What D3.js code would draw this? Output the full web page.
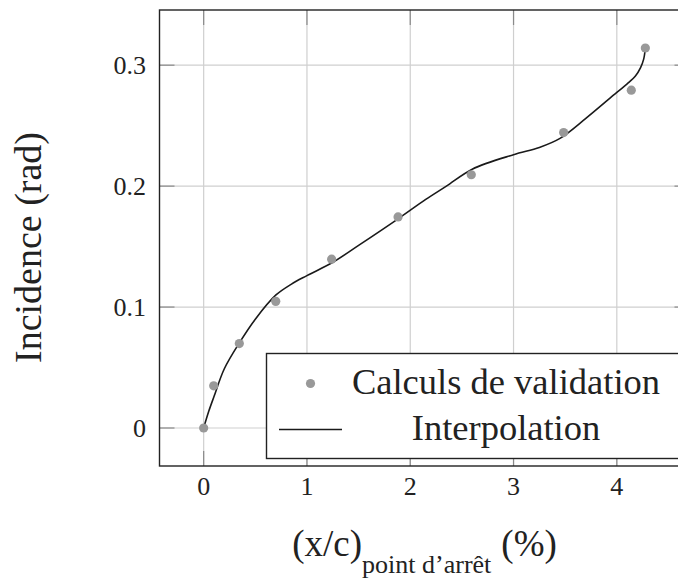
<!DOCTYPE html>
<html><head><meta charset="utf-8">
<script src="https://cdn.jsdelivr.net/npm/d3@7"></script>
<style>body{margin:0;background:#fff}svg{display:block}</style>
</head><body>
<script>
// Data
const calcX = [0, 0.097, 0.345, 0.698, 1.239, 1.882, 2.591, 3.485, 4.14, 4.276];
const calcY = [0, 0.0349, 0.0698, 0.1047, 0.1396, 0.1745, 0.2094, 0.2443, 0.2793, 0.3142];
const interpX = [0, 0.05, 0.1, 0.2, 0.35, 0.5, 0.7, 0.85, 1.0, 1.25, 1.5, 1.9, 2.15, 2.35, 2.6, 3.0, 3.25, 3.45, 3.7, 4.0, 4.1, 4.18, 4.23, 4.26, 4.276];
const interpY = [0, 0.014, 0.026, 0.049, 0.071, 0.090, 0.110, 0.119, 0.126, 0.137, 0.151, 0.174, 0.189, 0.200, 0.214, 0.226, 0.232, 0.2395, 0.256, 0.2775, 0.2845, 0.291, 0.298, 0.305, 0.314];
const xTicks = [0, 1, 2, 3, 4];
const xTickLabels = ["0", "1", "2", "3", "4"];
const yTicks = [0, 0.1, 0.2, 0.3];
const yTickLabels = ["0", "0.1", "0.2", "0.3"];
const legendLabels = ["Calculs de validation", "Interpolation"];
const yLabel = "Incidence (rad)";

const W = 678, H = 581;
const L = 159.5, R = 689.5, T = 10, B = 466;
const font = "'Liberation Serif','DejaVu Serif',serif";

const svg = d3.select("body").append("svg").attr("width", W).attr("height", H)
  .style("font-family", font);

const xmin = d3.min(calcX), xmax = d3.max(calcX), xp = 0.1 * (xmax - xmin);
const ymin = d3.min(calcY), ymax = d3.max(calcY), yp = 0.1 * (ymax - ymin);
const x = d3.scaleLinear().domain([xmin - xp, xmax + xp]).range([L, R]);
const y = d3.scaleLinear().domain([ymin - yp, ymax + yp]).range([B, T]);

// grid
const g = svg.append("g");
g.selectAll(".gx").data(xTicks).join("line")
  .attr("x1", d => x(d)).attr("x2", d => x(d)).attr("y1", T).attr("y2", B)
  .attr("stroke", "#cfcfcf").attr("stroke-width", 1.2);
g.selectAll(".gy").data(yTicks).join("line")
  .attr("y1", d => y(d)).attr("y2", d => y(d)).attr("x1", L).attr("x2", R)
  .attr("stroke", "#cfcfcf").attr("stroke-width", 1.2);

// ticks (inward, all four sides)
const tl = 15, tc = "#8a8a8a";
xTicks.forEach(d => {
  g.append("line").attr("x1", x(d)).attr("x2", x(d)).attr("y1", B).attr("y2", B - tl).attr("stroke", tc).attr("stroke-width", 1.2);
  g.append("line").attr("x1", x(d)).attr("x2", x(d)).attr("y1", T).attr("y2", T + tl).attr("stroke", tc).attr("stroke-width", 1.2);
});
yTicks.forEach(d => {
  g.append("line").attr("y1", y(d)).attr("y2", y(d)).attr("x1", L).attr("x2", L + tl).attr("stroke", tc).attr("stroke-width", 1.2);
  g.append("line").attr("y1", y(d)).attr("y2", y(d)).attr("x1", R).attr("x2", R - tl).attr("stroke", tc).attr("stroke-width", 1.2);
});

// curve
const line = d3.line().x(d => x(d[0])).y(d => y(d[1])).curve(d3.curveCatmullRom.alpha(0.5));
svg.append("path").datum(interpX.map((v, i) => [v, interpY[i]]))
  .attr("d", line).attr("fill", "none").attr("stroke", "#1a1a1a").attr("stroke-width", 1.6);

// points
svg.selectAll(".pt").data(calcX.map((v, i) => [v, calcY[i]])).join("circle")
  .attr("cx", d => x(d[0])).attr("cy", d => y(d[1])).attr("r", 4.6).attr("fill", "#999");

// frame
svg.append("rect").attr("x", L).attr("y", T).attr("width", R - L).attr("height", B - T)
  .attr("fill", "none").attr("stroke", "#222").attr("stroke-width", 1.4);

// tick labels
svg.selectAll(".xl").data(xTicks).join("text")
  .attr("x", d => x(d)).attr("y", 495).attr("text-anchor", "middle")
  .attr("font-size", 26).attr("fill", "#222")
  .text((d, i) => xTickLabels[i]);
svg.selectAll(".yl").data(yTicks).join("text")
  .attr("x", 146).attr("y", d => y(d) + 8.5).attr("text-anchor", "end")
  .attr("font-size", 26).attr("fill", "#222")
  .text((d, i) => yTickLabels[i]);

// legend
const lg = svg.append("g");
const lgL = 266.5, lgT = 353.5, lgB = 458.5, lgR = R - 8;
lg.append("rect").attr("x", lgL).attr("y", lgT).attr("width", lgR - lgL).attr("height", lgB - lgT)
  .attr("fill", "#fff").attr("stroke", "#222").attr("stroke-width", 1.4);
lg.append("circle").attr("cx", 310.5).attr("cy", 383.5).attr("r", 4.6).attr("fill", "#999");
lg.append("line").attr("x1", 279).attr("x2", 342).attr("y1", 429.5).attr("y2", 429.5)
  .attr("stroke", "#1a1a1a").attr("stroke-width", 1.6);
lg.selectAll("text").data(legendLabels).join("text")
  .attr("x", 506).attr("y", (d, i) => [393.5, 440][i]).attr("text-anchor", "middle")
  .attr("font-size", 36.5).attr("fill", "#222").text(d => d);

// axis labels
svg.append("text").attr("transform", "translate(41,247.5) rotate(-90)")
  .attr("text-anchor", "middle").attr("font-size", 38).attr("fill", "#222")
  .text(yLabel);

const xl = svg.append("text").attr("x", (L + R) / 2).attr("y", 556).attr("text-anchor", "middle")
  .attr("fill", "#222").attr("font-size", 37);
xl.append("tspan").text("(x/c)");
xl.append("tspan").attr("font-size", 26).attr("dy", 17).text("point d\u2019arr\u00eat");
xl.append("tspan").attr("dy", -17).attr("dx", 10).text("(%)");
</script>
</body></html>
